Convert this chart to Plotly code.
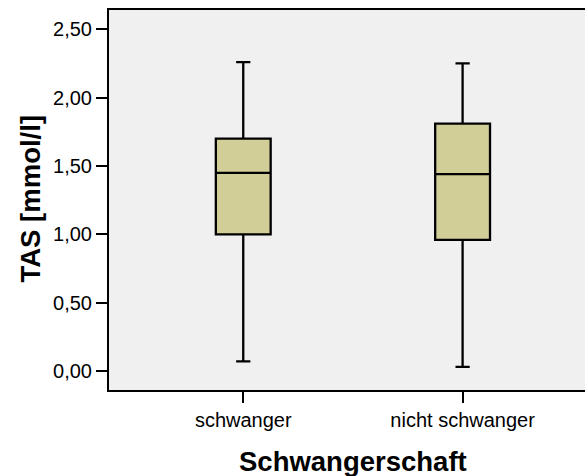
import plotly.graph_objects as go

categories = ["schwanger", "nicht schwanger"]
lower_whisker = [0.07, 0.03]
q1_values = [1.00, 0.96]
median_values = [1.45, 1.44]
q3_values = [1.70, 1.81]
upper_whisker = [2.26, 2.25]

y_tick_vals = [0.0, 0.5, 1.0, 1.5, 2.0, 2.5]
y_tick_text = ["0,00", "0,50", "1,00", "1,50", "2,00", "2,50"]

x_title = "Schwangerschaft"
y_title = "TAS [mmol/l]"

FONT = "Liberation Sans, Arial, sans-serif"

fig = go.Figure()
fig.add_trace(go.Box(
    x=categories,
    q1=q1_values,
    median=median_values,
    q3=q3_values,
    lowerfence=lower_whisker,
    upperfence=upper_whisker,
    width=0.25,
    whiskerwidth=0.26,
    fillcolor="#d2ce98",
    line=dict(color="black", width=2.3),
    boxpoints=False,
    showlegend=False,
    hoverinfo="skip",
))

fig.update_layout(
    width=585,
    height=476,
    margin=dict(l=109, r=0, t=10, b=86),
    paper_bgcolor="white",
    plot_bgcolor="#f0f0f0",
    font=dict(family=FONT, size=20, color="black"),
    xaxis=dict(
        type="category",
        range=[-0.612, 1.558],
        showline=True, linecolor="black", linewidth=2,
        mirror=True,
        ticks="outside", ticklen=11, tickwidth=2, tickcolor="black",
        showgrid=False, zeroline=False,
        tickfont=dict(family=FONT, size=20),
    ),
    yaxis=dict(
        range=[-0.139, 2.641],
        tickvals=y_tick_vals,
        ticktext=y_tick_text,
        showline=True, linecolor="black", linewidth=2,
        ticks="outside", ticklen=11, tickwidth=2, tickcolor="black",
        showgrid=False, zeroline=False,
        tickfont=dict(family=FONT, size=20),
    ),
    annotations=[
        dict(text=x_title, xref="paper", yref="paper",
             x=(352.5 - 109) / 476, y=(390 - 461) / 380,
             xanchor="center", yanchor="middle", showarrow=False,
             font=dict(family=FONT, size=27.5, color="black", weight="bold")),
        dict(text=y_title, xref="paper", yref="paper",
             x=(29.5 - 109) / 476, y=(390 - 199) / 380,
             xanchor="center", yanchor="middle", showarrow=False,
             textangle=-90,
             font=dict(family=FONT, size=27.5, color="black", weight="bold")),
    ],
)

fig.write_html("out.html")
